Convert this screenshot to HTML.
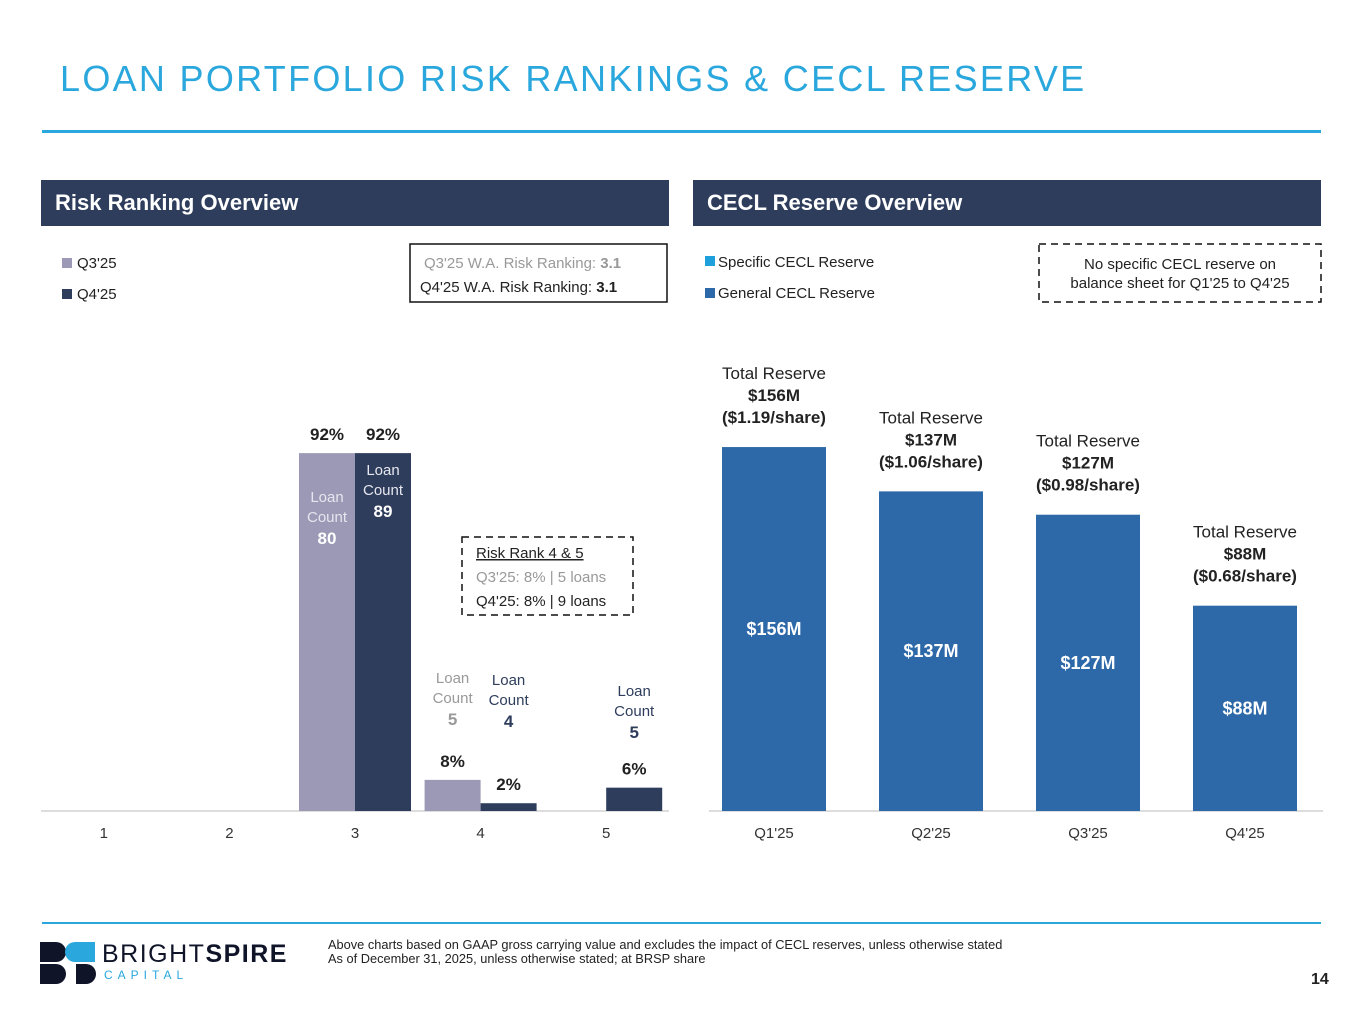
<!DOCTYPE html>
<html><head><meta charset="utf-8">
<style>
body{margin:0;width:1365px;height:1024px;background:#fff;font-family:"Liberation Sans",sans-serif;position:relative;overflow:hidden}
.abs{position:absolute}
</style></head><body>
<div class="abs" style="left:60px;top:58px;font-size:36px;letter-spacing:2.3px;color:#2aa7dc;">LOAN PORTFOLIO RISK RANKINGS &amp; CECL RESERVE</div>
<div class="abs" style="left:42px;top:130px;width:1279px;height:3px;background:#2aa7dc"></div>
<div class="abs" style="left:41px;top:180px;width:628px;height:46px;background:#2e3d5c;color:#fff;font-weight:bold;font-size:22px;line-height:46px;padding-left:14px;box-sizing:border-box">Risk Ranking Overview</div>
<div class="abs" style="left:693px;top:180px;width:628px;height:46px;background:#2e3d5c;color:#fff;font-weight:bold;font-size:22px;line-height:46px;padding-left:14px;box-sizing:border-box">CECL Reserve Overview</div>

<svg class="abs" style="left:0;top:0" width="1365" height="1024" id="svg">
 <g font-family="Liberation Sans, sans-serif">
  <rect x="62" y="258" width="10" height="10" fill="#9b99b6"/>
  <text x="77" y="268" font-size="15" fill="#222">Q3'25</text>
  <rect x="62" y="289" width="10" height="10" fill="#2e3d5c"/>
  <text x="77" y="299" font-size="15" fill="#222">Q4'25</text>
  <rect x="410" y="244" width="257" height="58" fill="none" stroke="#111" stroke-width="1.5"/>
  <text x="424" y="268" font-size="15" fill="#999">Q3'25 W.A. Risk Ranking: <tspan font-weight="bold">3.1</tspan></text>
  <text x="420" y="292" font-size="15" fill="#222">Q4'25 W.A. Risk Ranking: <tspan font-weight="bold">3.1</tspan></text>
  <rect x="462" y="537" width="171" height="78" fill="none" stroke="#111" stroke-width="1.5" stroke-dasharray="7,5"/>
  <text x="476" y="558" font-size="15" fill="#222" text-decoration="underline">Risk Rank 4 &amp; 5</text>
  <text x="476" y="582" font-size="15" fill="#999">Q3'25: 8% | 5 loans</text>
  <text x="476" y="606" font-size="15" fill="#222">Q4'25: 8% | 9 loans</text>

  <rect x="705" y="256" width="10" height="10" fill="#1ea0dc"/>
  <text x="718" y="267" font-size="15" fill="#222">Specific CECL Reserve</text>
  <rect x="705" y="288" width="10" height="10" fill="#2d69a8"/>
  <text x="718" y="298" font-size="15" fill="#222">General CECL Reserve</text>
  <rect x="1039" y="244" width="282" height="58" fill="none" stroke="#111" stroke-width="1.5" stroke-dasharray="7,5"/>
  <text x="1180" y="269" font-size="15" fill="#222" text-anchor="middle">No specific CECL reserve on</text>
  <text x="1180" y="288" font-size="15" fill="#222" text-anchor="middle">balance sheet for Q1'25 to Q4'25</text>

  <line x1="41" y1="811" x2="669" y2="811" stroke="#bbb"/>
  <line x1="709" y1="811" x2="1323" y2="811" stroke="#bbb"/>
  <g id="left"></g><g id="right"></g>
 </g>
</svg>

<div class="abs" style="left:42px;top:922px;width:1279px;height:2px;background:#2aa7dc"></div>
<svg class="abs" style="left:40px;top:942px" width="76" height="42">
 <path d="M0 0h16a10 10 0 0 1 0 20H0z" fill="#0f1428"/><path d="M35 0h20v20H35a10 10 0 0 1 0-20z" fill="#2aa7dc"/>
 <path d="M0 22h16a10 10 0 0 1 0 20H0z" fill="#0f1428"/><path d="M36 22h10a10 10 0 0 1 0 20H36z" fill="#0f1428"/>
</svg>
<div class="abs" style="left:102px;top:940px;font-size:25px;letter-spacing:1.5px;color:#0f1428">BRIGHT<b>SPIRE</b></div>
<div class="abs" style="left:104px;top:968px;font-size:12px;letter-spacing:5px;color:#2aa7dc">CAPITAL</div>
<div class="abs" style="left:328px;top:938px;font-size:12.8px;line-height:14px;color:#222">Above charts based on GAAP gross carrying value and excludes the impact of CECL reserves, unless otherwise stated<br>As of December 31, 2025, unless otherwise stated; at BRSP share</div>
<div class="abs" style="left:1311px;top:971px;font-size:16px;font-weight:bold;color:#222">14</div>

<script>
const riskCats=["1","2","3","4","5"];
const q3Pct=[0,0,92,8,0];
const q4Pct=[0,0,92,2,6];
const q3Count=[null,null,80,5,null];
const q4Count=[null,null,89,4,5];
const ceclCats=["Q1'25","Q2'25","Q3'25","Q4'25"];
const ceclVals=[156,137,127,88];
const ceclPerShare=["$1.19","$1.06","$0.98","$0.68"];

const NS="http://www.w3.org/2000/svg";
function mk(p,tag,a,txt){const e=document.createElementNS(NS,tag);for(const k in a)e.setAttribute(k,a[k]);if(txt!=null)e.textContent=txt;p.appendChild(e);return e;}
const base=811;
const L=document.getElementById('left');
const lx=i=>41+125.6*(i+0.5);
const ly=v=>base-v*3.89;
riskCats.forEach((c,i)=>{
 const t=mk(L,'text',{x:lx(i),y:838,'font-size':15,fill:'#333','text-anchor':'middle'},c);
 
 
 [[q3Pct,q3Count,'#9b99b6',-56,'q3'],[q4Pct,q4Count,'#2e3d5c',0,'q4']].forEach(([pv,cv,col,off,nm])=>{
  const v=pv[i]; if(!v) return;
  const x=lx(i)+off, y=ly(v), cx=x+28;
  const r=mk(L,'rect',{x:x,y:y,width:56,height:base-y,fill:col});
  
  
  const lb=mk(L,'text',{x:cx,y:y-13,'font-size':17,'font-weight':'bold',fill:'#222','text-anchor':'middle'},v+'%');
  
  
  if(cv[i]!=null){
   const inside=v>50;
   const top= inside ? (nm==='q3'? y+49 : y+22) : (c==='5'? base-115 : (nm==='q3'? base-128 : base-126));
   const col1 = inside ? '#fff' : (nm==='q3' ? '#999' : '#2e3d5c');
   const g=mk(L,'g',{});
   
   
   mk(g,'text',{x:cx,y:top,'font-size':15,fill:inside?'#e6e6ee':col1,'text-anchor':'middle'},'Loan');
   mk(g,'text',{x:cx,y:top+20,'font-size':15,fill:inside?'#e6e6ee':col1,'text-anchor':'middle'},'Count');
   mk(g,'text',{x:cx,y:top+42,'font-size':17,'font-weight':'bold',fill:col1,'text-anchor':'middle'},String(cv[i]));
  }
 });
});
const R=document.getElementById('right');
const rx=i=>774+157*i;
const ry=v=>base-v*2.333;
ceclCats.forEach((c,i)=>{
 const v=ceclVals[i], y=ry(v);
 const r=mk(R,'rect',{x:rx(i)-52,y:y,width:104,height:base-y,fill:'#2d69a8'});
 
 
 const vl=mk(R,'text',{x:rx(i),y:(y+base)/2+6,'font-size':18,'font-weight':'bold',fill:'#fff','text-anchor':'middle'},'$'+v+'M');
 
 
 const t=mk(R,'text',{x:rx(i),y:838,'font-size':15,fill:'#333','text-anchor':'middle'},c);
 
 
 const g=mk(R,'g',{});
 
 
 mk(g,'text',{x:rx(i),y:y-68,'font-size':17,fill:'#222','text-anchor':'middle'},'Total Reserve');
 mk(g,'text',{x:rx(i),y:y-46,'font-size':17,'font-weight':'bold',fill:'#222','text-anchor':'middle'},'$'+v+'M');
 mk(g,'text',{x:rx(i),y:y-24,'font-size':17,'font-weight':'bold',fill:'#222','text-anchor':'middle'},'('+ceclPerShare[i]+'/share)');
});
</script>
</body></html>
